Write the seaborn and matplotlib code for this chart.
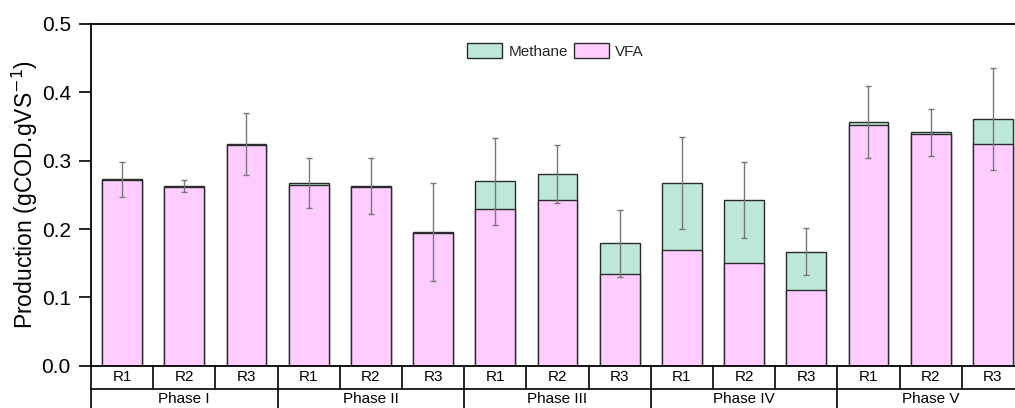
import matplotlib
matplotlib.use("Agg")
import matplotlib.pyplot as plt
from matplotlib.patches import Patch
import seaborn as sns
import numpy as np

# ---- data -------------------------------------------------------------
phases = ["Phase I", "Phase II", "Phase III", "Phase IV", "Phase V"]
reactors = ["R1", "R2", "R3"]

vfa = [0.2715, 0.261, 0.3225,
       0.265, 0.261, 0.1935,
       0.230, 0.243, 0.134,
       0.170, 0.151, 0.111,
       0.352, 0.339, 0.324]
methane = [0.001, 0.002, 0.002,
           0.002, 0.002, 0.0025,
           0.040, 0.038, 0.045,
           0.097, 0.092, 0.056,
           0.005, 0.0025, 0.037]
error = [0.026, 0.0085, 0.045,
         0.0365, 0.041, 0.072,
         0.0635, 0.0424, 0.0487,
         0.0677, 0.0558, 0.035,
         0.0525, 0.0346, 0.075]

vfa_color = "#ffccff"
methane_color = "#bde7d6"
edge_color = "#2b2b2b"

# ---- figure -----------------------------------------------------------
sns.set_theme(style="ticks")
plt.rcParams["font.family"] = ["Liberation Sans", "DejaVu Sans"]

fig = plt.figure(figsize=(10.15, 4.08), dpi=100)
ax = fig.add_axes([91 / 1015, (408 - 365.7) / 408, 933 / 1015, 341.7 / 408])

labels = [f"{p} {r}" for p in phases for r in reactors]
total = np.array(vfa) + np.array(methane)
pos = np.arange(len(labels))

# stacked bars: full height in methane colour, VFA part drawn over it
sns.barplot(x=labels, y=total, color=methane_color, saturation=1,
            edgecolor=edge_color, linewidth=1.0, width=0.64, ax=ax)
sns.barplot(x=labels, y=vfa, color=vfa_color, saturation=1,
            edgecolor=edge_color, linewidth=1.0, width=0.64, ax=ax)

ax.errorbar(pos, total, yerr=error, fmt="none", ecolor="#777777",
            elinewidth=1.0, capsize=2.5, capthick=1.0, zorder=5)

ax.set_xlim(-0.5, len(labels) - 0.5)
ax.set_ylim(0, 0.5)
ax.set_yticks([0.0, 0.1, 0.2, 0.3, 0.4, 0.5])
ax.set_yticklabels([f"{v:.1f}" for v in [0.0, 0.1, 0.2, 0.3, 0.4, 0.5]])
ax.tick_params(axis="y", length=8.5, width=1.2, labelsize=15, pad=6,
               direction="out", color="black", labelcolor="black")
ax.set_xticks([])
ax.set_xlabel("")
ax.set_ylabel("Production (gCOD.gVS$^{-1}$)", fontsize=16.5, color="black")
ax.yaxis.set_label_coords(-0.0547, 0.5)

for side in ["left", "top", "bottom"]:
    ax.spines[side].set_visible(True)
    ax.spines[side].set_color("black")
    ax.spines[side].set_linewidth(1.3)
ax.spines["right"].set_visible(False)

# ---- two-level category table under the axis -------------------------
tr = ax.get_xaxis_transform()
row1 = -23.3 / 341.7
row2 = -45.0 / 341.7
line_kw = dict(color="black", lw=1.2, transform=tr, clip_on=False)

ax.plot([-0.5, len(labels) - 0.5], [row1, row1], **line_kw)
ax.plot([-0.5, -0.5], [0, row2], **line_kw)
for i in range(1, len(labels)):
    ax.plot([i - 0.5, i - 0.5], [0, row1], **line_kw)
for k in range(1, len(phases)):
    x = k * len(reactors) - 0.5
    ax.plot([x, x], [row1, row2], **line_kw)

for i, lab in enumerate(labels):
    ax.text(i, row1 / 2, lab.split()[-1], transform=tr, ha="center",
            va="center", fontsize=11, color="black")
for k, ph in enumerate(phases):
    ax.text(k * len(reactors) + 1, -33.3 / 341.7, ph, transform=tr,
            ha="center", va="center", fontsize=11, color="black")

# ---- legend -----------------------------------------------------------
handles = [Patch(facecolor=methane_color, edgecolor=edge_color, linewidth=1.0),
           Patch(facecolor=vfa_color, edgecolor=edge_color, linewidth=1.0)]
ax.legend(handles, ["Methane", "VFA"], ncol=2, frameon=False, fontsize=11,
          loc="center", bbox_to_anchor=(0.498, 0.9216), handlelength=2.3,
          handleheight=1.1, handletextpad=0.4, columnspacing=0.4)

fig.savefig("out.png", dpi=100)
